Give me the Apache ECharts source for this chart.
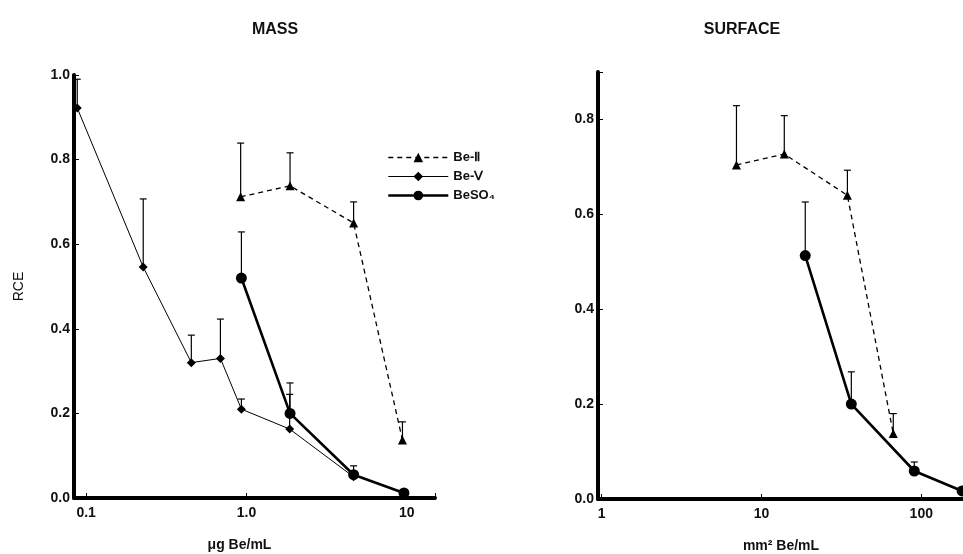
<!DOCTYPE html>
<html>
<head>
<meta charset="utf-8">
<script src="https://cdn.jsdelivr.net/npm/echarts@6/dist/echarts.min.js"></script>
<style>
  html, body { margin: 0; padding: 0; background: #fff; }
  #main { width: 963px; height: 554px; }
</style>
</head>
<body>
<div id="main"></div>
<script>
// MASS panel, x in ug Be/mL
var massBe2X = [0.92, 1.87, 4.66, 9.4];
var massBe2Y = [0.712, 0.738, 0.65, 0.137];
var massBe2Top = [0.839, 0.816, 0.70, 0.18];

var massBe5X = [0.088, 0.227, 0.453, 0.688, 0.93, 1.86, 4.66];
var massBe5Y = [0.922, 0.546, 0.32, 0.33, 0.21, 0.163, 0.05];
var massBe5Top = [0.99, 0.707, 0.385, 0.423, 0.234, 0.245, null];

var massSo4X = [0.93, 1.87, 4.66, 9.6];
var massSo4Y = [0.52, 0.20, 0.055, 0.012];
var massSo4Top = [0.629, 0.272, 0.076, null];

// SURFACE panel, x in mm2 Be/mL
var surfBe2X = [6.98, 13.9, 34.5, 66.8];
var surfBe2Y = [0.704, 0.727, 0.64, 0.138];
var surfBe2Top = [0.829, 0.808, 0.693, 0.18];

var surfSo4X = [18.8, 36.5, 90.4, 180];
var surfSo4Y = [0.513, 0.20, 0.059, 0.017];
var surfSo4Top = [0.626, 0.268, 0.078, null];

var seriesNames = ['Be-Ⅱ', 'Be-Ⅴ', 'BeSO₄'];
var massTicks = { '0.1': '0.1', '1': '1.0', '10': '10' };
var surfTicks = { '1': '1', '10': '10', '100': '100' };

function pairs(xs, ys) {
  return xs.map(function (x, i) { return [x, ys[i]]; });
}
function bars(xs, ys, tops) {
  var out = [];
  xs.forEach(function (x, i) {
    if (tops[i] != null) out.push([x, ys[i], tops[i]]);
  });
  return out;
}
// vertical error bar (upper half only) with a cap
function errRender(params, api) {
  var p0 = api.coord([api.value(0), api.value(1)]);
  var p1 = api.coord([api.value(0), api.value(2)]);
  return {
    type: 'group',
    children: [
      { type: 'line', shape: { x1: p0[0], y1: p0[1], x2: p1[0], y2: p1[1] }, style: { stroke: '#000', lineWidth: 1.2 } },
      { type: 'line', shape: { x1: p1[0] - 3.5, y1: p1[1], x2: p1[0] + 3.5, y2: p1[1] }, style: { stroke: '#000', lineWidth: 1.2 } }
    ]
  };
}
function tickFmt(map) {
  return function (v) {
    for (var k in map) {
      if (Math.abs(v - Number(k)) < 1e-6 * Number(k)) return map[k];
    }
    return '';
  };
}

var labelFont = { color: '#111', fontSize: 14, fontWeight: 'bold', fontFamily: 'Liberation Sans, Arial, sans-serif' };
var nameFont = { fontSize: 14, fontWeight: 'bold', color: '#111', fontFamily: 'Liberation Sans, Arial, sans-serif' };
var axisLine = { show: true, lineStyle: { color: '#000', width: 4 } };
var axisTick = { show: true, inside: true, length: 5, lineStyle: { color: '#000', width: 1 } };

var be2Style = { type: 'line', symbol: 'triangle', symbolSize: 9, color: '#000',
  lineStyle: { color: '#000', width: 1.3, type: [5, 4] }, itemStyle: { color: '#000' } };
var be5Style = { type: 'line', symbol: 'diamond', symbolSize: 9, color: '#000',
  lineStyle: { color: '#000', width: 1 }, itemStyle: { color: '#000' } };
var so4Style = { type: 'line', symbol: 'circle', symbolSize: 11, color: '#000',
  lineStyle: { color: '#000', width: 2.6 }, itemStyle: { color: '#000' } };

function lineSeries(base, name, gi, data) {
  return Object.assign({}, base, { name: name, xAxisIndex: gi, yAxisIndex: gi, data: data, z: 3, silent: true });
}
function errSeries(gi, data) {
  return { type: 'custom', xAxisIndex: gi, yAxisIndex: gi, renderItem: errRender,
    encode: { x: 0, y: [1, 2] }, data: data, z: 2, silent: true };
}

var chart = echarts.init(document.getElementById('main'));
chart.setOption({
  backgroundColor: '#fff',
  animation: false,
  title: [
    { text: 'MASS', left: 270, top: 17, textAlign: 'center',
      textStyle: { fontSize: 16, fontWeight: 'bold', fontFamily: 'Liberation Sans Narrow, Liberation Sans, sans-serif', color: '#111' } },
    { text: 'SURFACE', left: 737, top: 17, textAlign: 'center',
      textStyle: { fontSize: 16, fontWeight: 'bold', fontFamily: 'Liberation Sans Narrow, Liberation Sans, sans-serif', color: '#111' } }
  ],
  legend: {
    orient: 'vertical', left: 382, top: 146, itemWidth: 60, itemHeight: 12, itemGap: 6,
    data: seriesNames,
    lineStyle: { width: 'inherit' },
    textStyle: { fontSize: 13, fontWeight: 'bold', color: '#111', fontFamily: 'Liberation Sans, Arial, sans-serif' },
    selectedMode: false
  },
  grid: [
    { left: 74, top: 75, width: 361, height: 423, outerBoundsMode: 'none', containLabel: false },
    { left: 598, top: 72, width: 366, height: 427, outerBoundsMode: 'none', containLabel: false }
  ],
  xAxis: [
    { gridIndex: 0, type: 'log', logBase: 10, min: 0.084, max: 15,
      name: 'μg Be/mL', nameLocation: 'middle', nameGap: 40,
      nameTextStyle: Object.assign({ padding: [0, 30, 0, 0] }, nameFont),
      axisLine: axisLine, axisTick: axisTick, splitLine: { show: false }, minorTick: { show: false },
      axisLabel: Object.assign({ formatter: tickFmt(massTicks), margin: 8 }, labelFont) },
    { gridIndex: 1, type: 'log', logBase: 10, min: 0.95, max: 185,
      name: 'mm² Be/mL', nameLocation: 'middle', nameGap: 40,
      nameTextStyle: nameFont,
      axisLine: axisLine, axisTick: axisTick, splitLine: { show: false }, minorTick: { show: false },
      axisLabel: Object.assign({ formatter: tickFmt(surfTicks), margin: 8 }, labelFont) }
  ],
  yAxis: [
    { gridIndex: 0, type: 'value', min: 0, max: 1, interval: 0.2,
      name: 'RCE', nameLocation: 'middle', nameGap: 48,
      nameTextStyle: Object.assign({}, nameFont, { fontWeight: 'normal' }),
      axisLine: axisLine, axisTick: axisTick, splitLine: { show: false },
      axisLabel: Object.assign({ formatter: function (v) { return v.toFixed(1); }, margin: 4 }, labelFont) },
    { gridIndex: 1, type: 'value', min: 0, max: 0.9, interval: 0.2,
      axisLine: axisLine, axisTick: axisTick, splitLine: { show: false },
      axisLabel: Object.assign({ formatter: function (v) { return Math.abs(v - 0.9) < 1e-6 ? '' : v.toFixed(1); }, margin: 4 }, labelFont) }
  ],
  series: [
    errSeries(0, bars(massBe2X, massBe2Y, massBe2Top)),
    errSeries(0, bars(massBe5X, massBe5Y, massBe5Top)),
    errSeries(0, bars(massSo4X, massSo4Y, massSo4Top)),
    errSeries(1, bars(surfBe2X, surfBe2Y, surfBe2Top)),
    errSeries(1, bars(surfSo4X, surfSo4Y, surfSo4Top)),
    lineSeries(be2Style, seriesNames[0], 0, pairs(massBe2X, massBe2Y)),
    lineSeries(be5Style, seriesNames[1], 0, pairs(massBe5X, massBe5Y)),
    lineSeries(so4Style, seriesNames[2], 0, pairs(massSo4X, massSo4Y)),
    lineSeries(be2Style, seriesNames[0], 1, pairs(surfBe2X, surfBe2Y)),
    lineSeries(so4Style, seriesNames[2], 1, pairs(surfSo4X, surfSo4Y))
  ]
});
</script>
</body>
</html>
